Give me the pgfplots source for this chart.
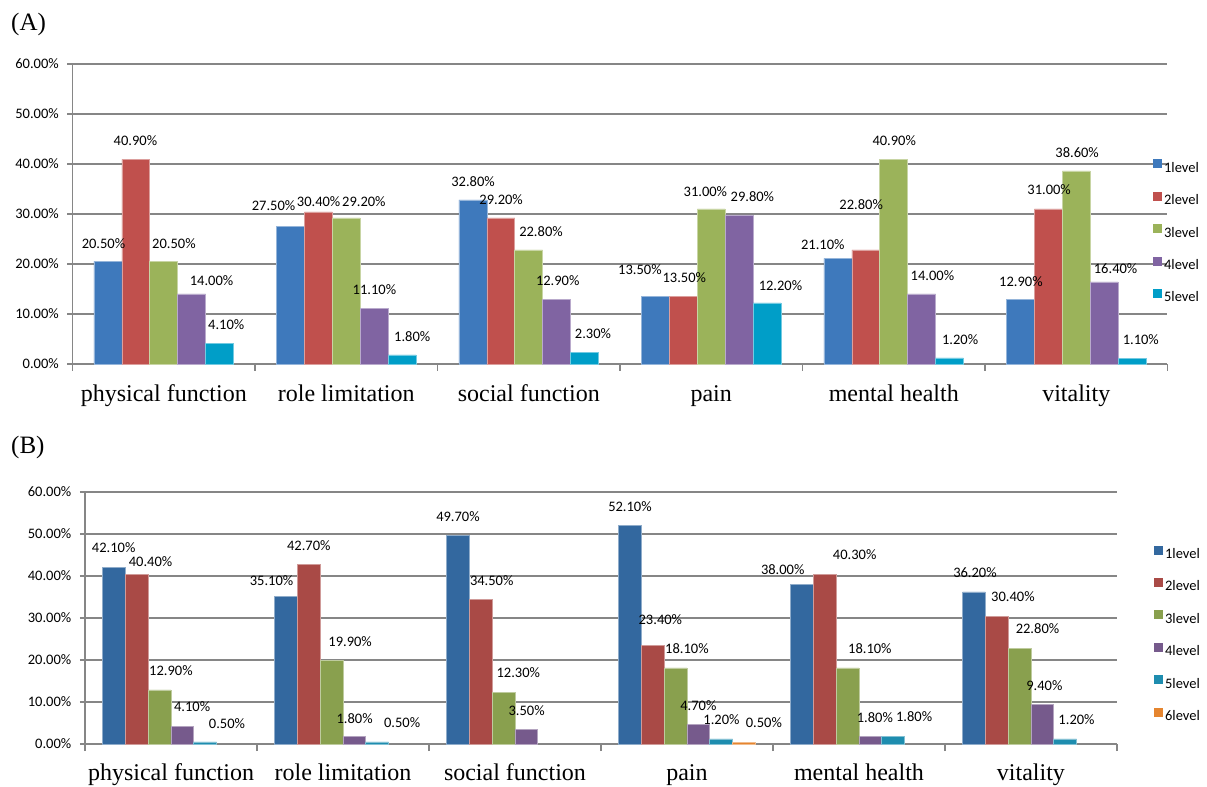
\documentclass[border=0pt]{standalone}
\usepackage{fontspec}
\setmainfont{Carlito}
\newfontfamily\tnr{Liberation Serif}
\usepackage{pgfplots}
\usepackage{pgfplotstable}
\pgfplotsset{compat=1.18}

\definecolor{gridc}{RGB}{134,134,134}
\definecolor{Aa}{HTML}{3E79BC}
\definecolor{Ab}{HTML}{C0504D}
\definecolor{Ac}{HTML}{9BB35A}
\definecolor{Ad}{HTML}{8064A2}
\definecolor{Ae}{HTML}{009EC8}
\definecolor{Ba}{HTML}{33689F}
\definecolor{Bb}{HTML}{A94A46}
\definecolor{Bc}{HTML}{89A04E}
\definecolor{Bd}{HTML}{765A8C}
\definecolor{Be}{HTML}{1E8DAF}
\definecolor{Bf}{HTML}{E5852F}

% Panel A: x y dx dy (label offsets)
\pgfplotstableread{
x y dx dy
0 20.5 -4.5 18.2
1 27.5 -17 20.5
2 32.8 0.1 18.3
3 13.5 -15.6 26.5
4 21.1 -15.2 13.5
5 12.9 0.5 17.8
}\tAa
\pgfplotstableread{
x y dx dy
0 40.9 -0.4 18.8
1 30.4 0.3 10.3
2 29.2 0.3 18
3 13.5 1 18.8
4 22.8 -4.7 45.7
5 31.0 0.8 19
}\tAb
\pgfplotstableread{
x y dx dy
0 20.5 10.2 18.2
1 29.2 17.7 16.3
2 22.8 12.3 18.3
3 31.0 -5.9 17.3
4 40.9 0.5 18.8
5 38.6 0.9 18.7
}\tAc
\pgfplotstableread{
x y dx dy
0 14.0 20 13.3
1 11.1 0.3 18.5
2 12.9 1.1 18.8
3 29.8 13.3 18.3
4 14.0 10.8 18.3
5 16.4 11.5 13.7
}\tAd
\pgfplotstableread{
x y dx dy
0 4.1 6.7 18.5
1 1.8 10.2 18.3
2 2.3 8.5 19.2
3 12.2 13.5 17.3
4 1.2 10.6 18
5 1.1 8.8 18.5
}\tAe

% Panel B
\pgfplotstableread{
x y dx dy
0 42.1 -0.3 19.2
1 35.1 -14.5 16.3
2 49.7 0 19
3 52.1 0 18.8
4 38.0 -19.3 15.3
5 36.2 1 19.7
}\tBa
\pgfplotstableread{
x y dx dy
0 40.4 13.8 13
1 42.7 0 19
2 34.5 11 18.8
3 23.4 7.6 26.7
4 40.3 30 20.7
5 30.4 16.2 19.3
}\tBb
\pgfplotstableread{
x y dx dy
0 12.9 11.4 19.5
1 19.9 18.6 19.1
2 12.3 14.8 19.3
3 18.1 11.4 19
4 18.1 22.4 19
5 22.8 18 19.3
}\tBc
\pgfplotstableread{
x y dx dy
0 4.1 9.8 20.4
1 1.8 0.2 18.4
2 3.5 0.2 19
3 4.7 0 18.9
4 1.8 4.5 19.4
5 9.4 2 19.2
}\tBd
\pgfplotstableread{
x y dx dy
0 0.5 21.9 18.2
1 0.5 25 19.6
3 1.2 0.3 19.3
4 1.8 21 20
5 1.2 11.4 19.3
}\tBe
\pgfplotstableread{
x y dx dy
3 0.5 20 19.6
}\tBf

\pgfplotsset{
  panel/.style={
    scale only axis, ybar=0pt, enlargelimits=false,
    xmin=-0.5, xmax=5.5, ymin=0, ymax=60,
    axis x line*=bottom, axis y line*=left,
    axis line style={draw=gridc, line width=1.2bp},
    ytick={0,10,...,60},
    ymajorgrids, grid style={draw=gridc, line width=1.2bp},
    xtick={0,...,5},
    xticklabels={physical function, role limitation, social function, pain, mental health, vitality},
    minor xtick={-0.5,0.5,...,5.5},
    tick align=outside,
    major tick length=5bp, minor tick length=7bp,
    tick style={draw=gridc, line width=1.2bp},
    major x tick style={draw=none},
    yticklabel={\pgfmathprintnumber[fixed,fixed zerofill,precision=2,assume math mode=true]{\tick}\%},
    yticklabel style={font=\fontsize{14.5bp}{17bp}\selectfont, inner sep=0pt, anchor=east, xshift=-8.5bp},
    clip=false,
    nodes near coords={\pgfmathprintnumber[fixed,fixed zerofill,precision=2,assume math mode=true]{\pgfplotspointmeta}\%},
    point meta=y,
    legend style={draw=none, fill=none, inner sep=0pt, outer sep=0pt,
      font=\fontsize{14.5bp}{17bp}\selectfont,
      nodes={inner sep=0pt}, row sep=18.4bp,
      /tikz/every odd column/.style={column sep=3bp}},
    legend cell align=left,
  },
  bs/.style={fill=#1, draw=#1!55!white, line width=0.6bp,
    legend image code/.code={\fill[#1] (0bp,0bp) rectangle (7.5bp,8bp);},
    visualization depends on={\thisrow{dx}\as\ldx},
    visualization depends on={\thisrow{dy}\as\ldy},
    every node near coord/.append style={anchor=center, inner sep=0pt, text=black,
      font=\fontsize{14.5bp}{17bp}\selectfont, xshift=\ldx pt, yshift=\ldy pt}},
}

\begin{document}
\begin{tikzpicture}
\path[use as bounding box] (0,0) rectangle (1207bp,787bp);
\node[anchor=west, inner sep=0pt, font=\tnr\fontsize{25bp}{30bp}\selectfont] at (11bp,763bp) {(A)};
\node[anchor=west, inner sep=0pt, font=\tnr\fontsize{25bp}{30bp}\selectfont] at (11bp,340bp) {(B)};

\begin{axis}[panel,
  at={(72.5bp,423bp)}, anchor=south west,
  width=1095bp, height=300bp,
  bar width=27.9bp,
  xticklabel style={font=\tnr\fontsize{24bp}{28bp}\selectfont, anchor=base, inner sep=0pt, yshift=-33bp},
  legend style={at={(axis description cs:0.9868,0.6817)}, anchor=north west},
]
\addplot[bs=Aa] table[x=x,y=y] {\tAa};
\addplot[bs=Ab] table[x=x,y=y] {\tAb};
\addplot[bs=Ac] table[x=x,y=y] {\tAc};
\addplot[bs=Ad] table[x=x,y=y] {\tAd};
\addplot[bs=Ae] table[x=x,y=y] {\tAe};
\legend{1level,2level,3level,4level,5level}
\end{axis}

\begin{axis}[panel,
  at={(85bp,43bp)}, anchor=south west,
  width=1032bp, height=252bp,
  bar width=22.8bp,
  xticklabel style={font=\tnr\fontsize{24bp}{28bp}\selectfont, anchor=base, inner sep=0pt, yshift=-31.5bp},
  legend style={at={(axis description cs:1.0359,0.7877)}, anchor=north west},
]
\addplot[bs=Ba] table[x=x,y=y] {\tBa};
\addplot[bs=Bb] table[x=x,y=y] {\tBb};
\addplot[bs=Bc] table[x=x,y=y] {\tBc};
\addplot[bs=Bd] table[x=x,y=y] {\tBd};
\addplot[bs=Be] table[x=x,y=y] {\tBe};
\addplot[bs=Bf] table[x=x,y=y] {\tBf};
\legend{1level,2level,3level,4level,5level,6level}
\end{axis}
\end{tikzpicture}
\end{document}
